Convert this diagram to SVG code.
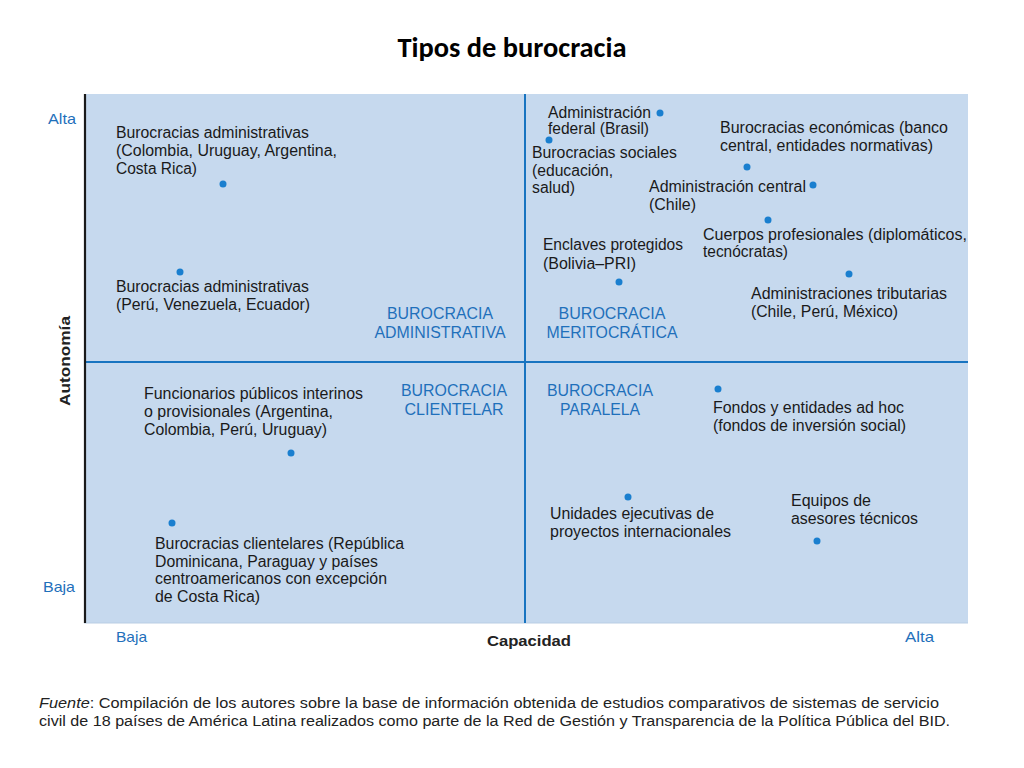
<svg xmlns="http://www.w3.org/2000/svg" width="1024" height="768" viewBox="0 0 1024 768">
<style>
.t{font-family:"Liberation Sans",Arial,sans-serif;font-size:16px;fill:#1a1a1a;}
.q{font-family:"Liberation Sans",Arial,sans-serif;font-size:16px;fill:#1f70bb;}
.ax{font-family:"Liberation Sans",Arial,sans-serif;font-size:14.5px;fill:#1f70bb;}
.axb{font-family:"Liberation Sans",Arial,sans-serif;font-size:14.5px;font-weight:bold;fill:#222;}
.f{font-family:"Liberation Sans",Arial,sans-serif;font-size:14px;fill:#222;}
.d{fill:#1a7fcf;}
.div{stroke:#1874c0;stroke-width:2;}
</style>
<rect width="1024" height="768" fill="#ffffff"/>
<text x="512" y="57" text-anchor="middle" font-family="Carlito,'Liberation Sans',Arial,sans-serif" font-size="28" font-weight="bold" fill="#000" textLength="229" lengthAdjust="spacingAndGlyphs">Tipos de burocracia</text>

<g id="chart">
<rect x="84" y="94" width="884" height="529" fill="#c6d9ee"/>
<line x1="84" y1="623" x2="968" y2="623" stroke="#b9cde4" stroke-width="1"/>
</g>
<g id="connectors">
<line class="div" x1="525" y1="94" x2="525" y2="623"/>
<line class="div" x1="84" y1="362" x2="968" y2="362"/>
<line x1="85" y1="94" x2="85" y2="623" stroke="#1a1a1a" stroke-width="2.2"/>
</g>

<g id="axes">
<text class="ax" x="48" y="124" textLength="28" lengthAdjust="spacingAndGlyphs">Alta</text>
<text class="ax" x="43" y="592" textLength="32" lengthAdjust="spacingAndGlyphs">Baja</text>
<text class="ax" x="116" y="642" textLength="31" lengthAdjust="spacingAndGlyphs">Baja</text>
<text class="ax" x="905" y="642" textLength="29" lengthAdjust="spacingAndGlyphs">Alta</text>
<text class="axb" x="529" y="646" text-anchor="middle" textLength="84" lengthAdjust="spacingAndGlyphs">Capacidad</text>
<text class="axb" transform="translate(70,361) rotate(-90)" text-anchor="middle" textLength="90" lengthAdjust="spacingAndGlyphs">Autonomía</text>
</g>

<g id="q-administrativa">
<text class="q" x="440" y="319" text-anchor="middle" textLength="106" lengthAdjust="spacingAndGlyphs">BUROCRACIA</text>
<text class="q" x="440" y="338" text-anchor="middle" textLength="131" lengthAdjust="spacingAndGlyphs">ADMINISTRATIVA</text>
</g>
<g id="q-meritocratica">
<text class="q" x="612" y="319" text-anchor="middle" textLength="107" lengthAdjust="spacingAndGlyphs">BUROCRACIA</text>
<text class="q" x="612" y="338" text-anchor="middle" textLength="131" lengthAdjust="spacingAndGlyphs">MERITOCRÁTICA</text>
</g>
<g id="q-clientelar">
<text class="q" x="454" y="396" text-anchor="middle" textLength="106" lengthAdjust="spacingAndGlyphs">BUROCRACIA</text>
<text class="q" x="454" y="415" text-anchor="middle" textLength="99" lengthAdjust="spacingAndGlyphs">CLIENTELAR</text>
</g>
<g id="q-paralela">
<text class="q" x="600" y="396" text-anchor="middle" textLength="106" lengthAdjust="spacingAndGlyphs">BUROCRACIA</text>
<text class="q" x="600" y="415" text-anchor="middle" textLength="80" lengthAdjust="spacingAndGlyphs">PARALELA</text>
</g>

<g id="n1">
<text class="t" x="116" y="138" textLength="193" lengthAdjust="spacingAndGlyphs">Burocracias administrativas</text>
<text class="t" x="116" y="156" textLength="221" lengthAdjust="spacingAndGlyphs">(Colombia, Uruguay, Argentina,</text>
<text class="t" x="116" y="174" textLength="81" lengthAdjust="spacingAndGlyphs">Costa Rica)</text>
<circle class="d" cx="223" cy="184" r="3.5"/>
</g>
<g id="n2">
<circle class="d" cx="180" cy="272" r="3.5"/>
<text class="t" x="116" y="292" textLength="193" lengthAdjust="spacingAndGlyphs">Burocracias administrativas</text>
<text class="t" x="116" y="310" textLength="194" lengthAdjust="spacingAndGlyphs">(Perú, Venezuela, Ecuador)</text>
</g>
<g id="n3">
<text class="t" x="548" y="118" textLength="103" lengthAdjust="spacingAndGlyphs">Administración</text>
<text class="t" x="548" y="134" textLength="101" lengthAdjust="spacingAndGlyphs">federal (Brasil)</text>
<circle class="d" cx="660" cy="113" r="3.5"/>
</g>
<g id="n4">
<circle class="d" cx="549" cy="140" r="3.5"/>
<text class="t" x="532" y="158" textLength="145" lengthAdjust="spacingAndGlyphs">Burocracias sociales</text>
<text class="t" x="532" y="176" textLength="81" lengthAdjust="spacingAndGlyphs">(educación,</text>
<text class="t" x="532" y="193" textLength="43" lengthAdjust="spacingAndGlyphs">salud)</text>
</g>
<g id="n5">
<text class="t" x="720" y="133" textLength="228" lengthAdjust="spacingAndGlyphs">Burocracias económicas (banco</text>
<text class="t" x="720" y="151" textLength="213" lengthAdjust="spacingAndGlyphs">central, entidades normativas)</text>
<circle class="d" cx="747" cy="167" r="3.5"/>
</g>
<g id="n6">
<text class="t" x="649" y="192" textLength="157" lengthAdjust="spacingAndGlyphs">Administración central</text>
<text class="t" x="649" y="210" textLength="47" lengthAdjust="spacingAndGlyphs">(Chile)</text>
<circle class="d" cx="813" cy="185" r="3.5"/>
</g>
<g id="n7">
<circle class="d" cx="768" cy="220" r="3.5"/>
<text class="t" x="703" y="240" textLength="264" lengthAdjust="spacingAndGlyphs">Cuerpos profesionales (diplomáticos,</text>
<text class="t" x="703" y="257" textLength="85" lengthAdjust="spacingAndGlyphs">tecnócratas)</text>
</g>
<g id="n8">
<text class="t" x="543" y="250" textLength="140" lengthAdjust="spacingAndGlyphs">Enclaves protegidos</text>
<text class="t" x="543" y="269" textLength="93" lengthAdjust="spacingAndGlyphs">(Bolivia–PRI)</text>
<circle class="d" cx="619" cy="282" r="3.5"/>
</g>
<g id="n9">
<circle class="d" cx="849" cy="274" r="3.5"/>
<text class="t" x="751" y="299" textLength="196" lengthAdjust="spacingAndGlyphs">Administraciones tributarias</text>
<text class="t" x="751" y="317" textLength="147" lengthAdjust="spacingAndGlyphs">(Chile, Perú, México)</text>
</g>
<g id="n10">
<text class="t" x="144" y="399" textLength="219" lengthAdjust="spacingAndGlyphs">Funcionarios públicos interinos</text>
<text class="t" x="144" y="417" textLength="189" lengthAdjust="spacingAndGlyphs">o provisionales (Argentina,</text>
<text class="t" x="144" y="435" textLength="183" lengthAdjust="spacingAndGlyphs">Colombia, Perú, Uruguay)</text>
<circle class="d" cx="291" cy="453" r="3.5"/>
</g>
<g id="n11">
<circle class="d" cx="172" cy="523" r="3.5"/>
<text class="t" x="155" y="549" textLength="249" lengthAdjust="spacingAndGlyphs">Burocracias clientelares (República</text>
<text class="t" x="155" y="567" textLength="223" lengthAdjust="spacingAndGlyphs">Dominicana, Paraguay y países</text>
<text class="t" x="155" y="584" textLength="232" lengthAdjust="spacingAndGlyphs">centroamericanos con excepción</text>
<text class="t" x="155" y="602" textLength="105" lengthAdjust="spacingAndGlyphs">de Costa Rica)</text>
</g>
<g id="n12">
<circle class="d" cx="718" cy="389" r="3.5"/>
<text class="t" x="713" y="413" textLength="191" lengthAdjust="spacingAndGlyphs">Fondos y entidades ad hoc</text>
<text class="t" x="713" y="431" textLength="193" lengthAdjust="spacingAndGlyphs">(fondos de inversión social)</text>
</g>
<g id="n13">
<circle class="d" cx="628" cy="497" r="3.5"/>
<text class="t" x="550" y="519" textLength="164" lengthAdjust="spacingAndGlyphs">Unidades ejecutivas de</text>
<text class="t" x="550" y="537" textLength="181" lengthAdjust="spacingAndGlyphs">proyectos internacionales</text>
</g>
<g id="n14">
<text class="t" x="791" y="506" textLength="80" lengthAdjust="spacingAndGlyphs">Equipos de</text>
<text class="t" x="791" y="524" textLength="127" lengthAdjust="spacingAndGlyphs">asesores técnicos</text>
<circle class="d" cx="817" cy="541" r="3.5"/>
</g>

<g id="footer">
<text class="f" x="39" y="708" textLength="900" lengthAdjust="spacingAndGlyphs"><tspan font-style="italic">Fuente</tspan>: Compilación de los autores sobre la base de información obtenida de estudios comparativos de sistemas de servicio</text>
<text class="f" x="39" y="726" textLength="911" lengthAdjust="spacingAndGlyphs">civil de 18 países de América Latina realizados como parte de la Red de Gestión y Transparencia de la Política Pública del BID.</text>
</g>
</svg>
